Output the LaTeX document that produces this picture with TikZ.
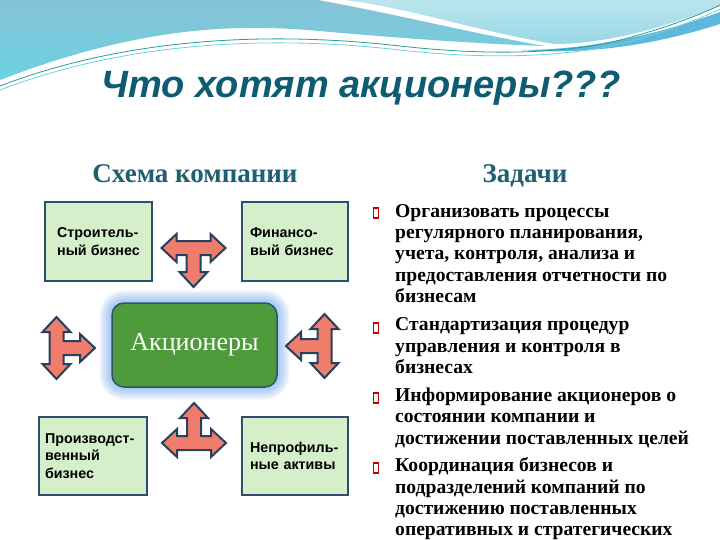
\documentclass[tikz,border=0pt]{standalone}
\usepackage{fontspec}
\setmainfont{Liberation Serif}
\newfontfamily\arialfont{Liberation Sans}
\definecolor{titleteal}{HTML}{0D5C72}
\definecolor{subteal}{HTML}{1F5F6F}
\definecolor{boxfill}{HTML}{D6EFCB}
\definecolor{boxline}{HTML}{2E4D73}
\definecolor{arrowfill}{HTML}{F07D6C}
\definecolor{arrowline}{HTML}{26405F}
\definecolor{centerfill}{HTML}{4E9B3B}
\definecolor{centerline}{HTML}{2F5463}
\definecolor{glow}{HTML}{6FA8F0}
\definecolor{bullred}{HTML}{C00000}
\definecolor{waveA}{HTML}{86C2D7}
\definecolor{waveB}{HTML}{6BD3E0}
\definecolor{waveC}{HTML}{BCE6EE}
\definecolor{waveD}{HTML}{98D8E6}
\definecolor{waveE}{HTML}{5FB8DB}
\definecolor{waveline}{HTML}{2A9A9A}
\tikzset{
  tarrowsty/.style={fill=arrowfill, draw=arrowline, line width=2pt, line join=miter},
  box/.style={draw=boxline, line width=1.8pt, fill=boxfill, align=left, inner xsep=8pt,
    font=\arialfont\bfseries\fontsize{14.3}{17.5}\selectfont},
  centerbox/.style={draw=centerline, line width=1.5pt, fill=centerfill, rounded corners=12pt,
    minimum width=165pt, minimum height=84pt, text=white, font=\fontsize{26}{30}\selectfont},
  para/.style={anchor=north west, inner sep=0pt, align=left,
    font=\bfseries\fontsize{19.6}{21.3}\selectfont},
  bullet/.style={draw=bullred, line width=1.4pt},
  sub/.style={text=subteal, font=\bfseries\fontsize{27}{30}\selectfont, anchor=base}
}
\newcommand\tarrow[5]{%
\begin{scope}[shift={(#1,#2)},rotate=#5]
\filldraw[tarrowsty] ({-#3},0) -- ({-#3+15},-14) -- ({-#3+15},-7) -- ({#3-15},-7) -- ({#3-15},-14) -- ({#3},0) -- ({#3-15},14) -- ({#3-15},7) -- (7,7) -- (7,{#4-15}) -- (14,{#4-15}) -- (0,#4) -- (-14,{#4-15}) -- (-7,{#4-15}) -- (-7,7) -- ({-#3+15},7) -- ({-#3+15},14) -- cycle;
\end{scope}}
\begin{document}
\begin{tikzpicture}[x=1pt,y=-1pt]
\useasboundingbox (0,0) rectangle (720,540);
\fill[white] (0,0) rectangle (720,540);
% waves
\shade[top color=waveA, bottom color=waveB] (0,0) -- (318,0) .. controls (400,15) and (480,35) .. (545,46)
  .. controls (480,44) and (400,38) .. (330,32) .. controls (250,24) and (150,22) .. (0,80) -- cycle;
\shade[top color=waveC, bottom color=waveD] (345,0) -- (720,0) -- (720,6) .. controls (670,25) and (610,44) .. (555,44)
  .. controls (480,32) and (410,8) .. (345,0) -- cycle;
\fill[waveE] (520,50) .. controls (600,50) and (670,30) .. (720,12) -- (720,24) .. controls (670,40) and (600,56) .. (520,50) -- cycle;
\draw[waveline, line width=0.8pt] (0,86) .. controls (120,40) and (260,30) .. (400,46) .. controls (480,55) and (560,55) .. (620,40) .. controls (660,30) and (700,15) .. (720,5);
\draw[waveB, line width=0.8pt] (0,90) .. controls (120,44) and (260,34) .. (400,50) .. controls (480,59) and (560,58) .. (620,44) .. controls (660,34) and (700,19) .. (720,9);
% title
\node[anchor=base, text=titleteal, font=\arialfont\bfseries\itshape\fontsize{38}{42}\selectfont] (title) at (361,98) {Что хотят акционеры???};
\node[sub] (s1) at (195,183) {Схема компании};
\node[sub] (s2) at (525,183) {Задачи};
% boxes
\node[box, minimum height=79pt, minimum width=107pt] (b1) at (98.5,241.5) {Строитель-\\ный бизнес};
\node[box, minimum height=79pt, text width=90pt] (b2) at (295,241.5) {Финансо-\\вый бизнес};
\node[box, minimum height=78pt, text width=96pt, inner xsep=6pt] (b3) at (93,456) {Производст-\\венный\\бизнес};
\node[box, minimum height=78pt, text width=90pt] (b4) at (295,456) {Непрофиль-\\ные активы};
% glow
\foreach \g in {1,...,9}{
  \pgfmathsetmacro\rc{12+1.4*\g}
  \fill[glow, fill opacity=0.09, rounded corners=\rc pt] ({112-1.4*\g},{303-1.4*\g}) rectangle ({277+1.4*\g},{387+1.4*\g});
}
\node[centerbox] (sh) at (194.5,345) {Акционеры};
% arrows
\tarrow{193.5}{248}{32}{39}{0}
\tarrow{194}{443}{32}{40}{180}
\tarrow{56.5}{348}{31}{38.5}{90}
\tarrow{324.5}{346}{32}{38.5}{-90}
% right text
\draw[bullet] (373.5,208) rectangle (378.5,218);
\node[para] (p1) at (395,204) {Организовать процессы\\регулярного планирования,\\учета, контроля, анализа и\\предоставления отчетности по\\бизнесам};
\draw[bullet] (373.5,323) rectangle (378.5,333);
\node[para] (p2) at (395,317.7) {Стандартизация процедур\\управления и контроля в\\бизнесах};
\draw[bullet] (373.5,393) rectangle (378.5,403);
\node[para] (p3) at (395,387.7) {Информирование акционеров о\\состоянии компании и\\достижении поставленных целей};
\draw[bullet] (373.5,463) rectangle (378.5,473);
\node[para] (p4) at (395,457.5) {Координация бизнесов и\\подразделений компаний по\\достижению поставленных\\оперативных и стратегических};
\end{tikzpicture}
\end{document}
